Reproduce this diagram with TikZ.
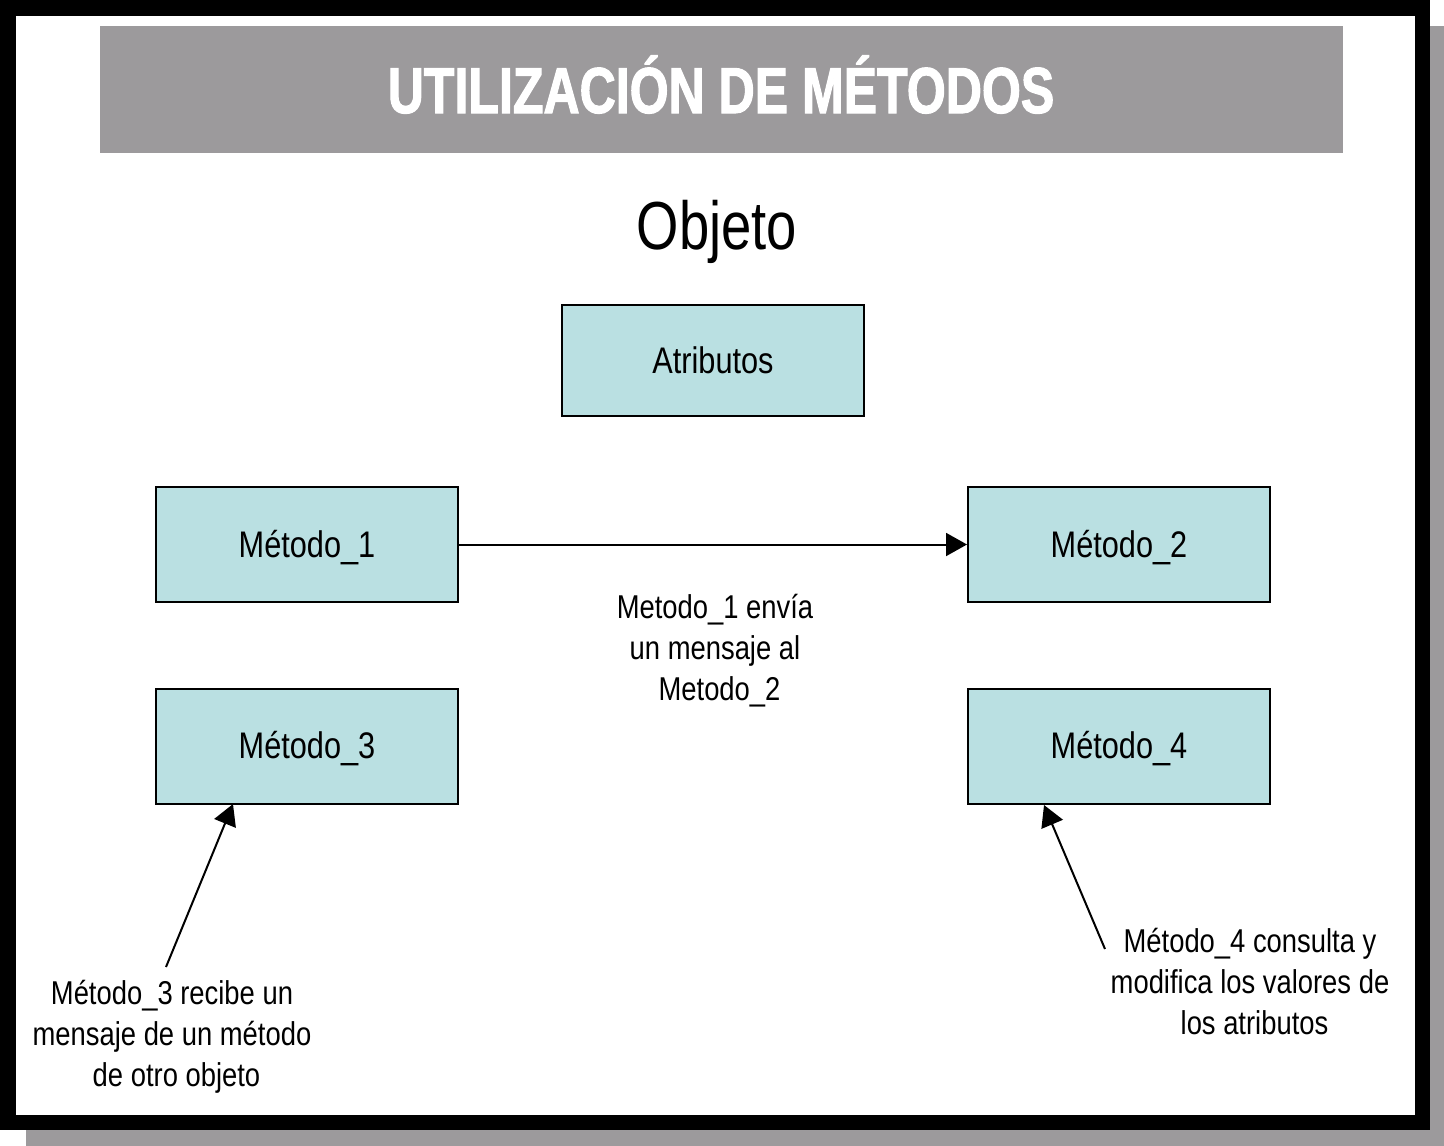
\documentclass[tikz,border=0pt]{standalone}
\usepackage{fontspec}
\setmainfont[FakeStretch=0.83]{Liberation Sans}
\newfontfamily\titlefont[FakeStretch=0.77,FakeBold=1.6]{Liberation Sans Bold}
\newfontfamily\objfont[FakeStretch=0.8]{Liberation Sans}
\usetikzlibrary{arrows.meta}
\definecolor{hdrgrey}{RGB}{156,154,156}
\definecolor{boxfill}{RGB}{186,224,226}
\newcommand{\boxtxt}[1]{\raisebox{-12.5pt}[0pt][0pt]{#1}}
\begin{document}
\begin{tikzpicture}[x=1pt,y=-1pt,
  methbox/.style={draw=black,line width=2pt,fill=boxfill,minimum width=302pt,minimum height=115pt,inner sep=0pt,font=\fontsize{37}{41}\selectfont},
  note/.style={align=center,inner sep=0pt,font=\fontsize{33}{41}\selectfont},
  conn/.style={line width=2pt,-{Triangle[length=21pt,width=23pt]}}]
\useasboundingbox (0,0) rectangle (1444,1146);
% shadow and frame
\fill[hdrgrey] (26,26) rectangle (1444,1146);
\fill[black] (0,0) rectangle (1430,1130);
\fill[white] (16,16) rectangle (1415,1115);
% header
\fill[hdrgrey] (100,26) rectangle (1343,153);
\node[text=white,inner sep=0pt,anchor=base,font=\titlefont\fontsize{65}{70}\selectfont] (title) at (721,113) {UTILIZACIÓN DE MÉTODOS};
\node[inner sep=0pt,anchor=base,font=\objfont\fontsize{68}{74}\selectfont] (obj) at (717,249) {Objeto};
% boxes
\node[methbox,minimum height=111pt] (atr) at (713,360.5) {\boxtxt{Atributos}};
\node[methbox] (m1) at (307,544.5) {\boxtxt{Método\_1}};
\node[methbox] (m2) at (1119,544.5) {\boxtxt{Método\_2}};
\node[methbox] (m3) at (307,746) {\boxtxt{Método\_3}};
\node[methbox] (m4) at (1119,746) {\boxtxt{Método\_4}};
% notes
\node[note] (n1) at (715,651) {Metodo\_1 envía\\un mensaje al\\\hspace*{9pt}Metodo\_2};
\node[note] (n3) at (172,1037) {Método\_3 recibe un\\mensaje de un método\\\hspace*{9pt}de otro objeto};
\node[note] (n4) at (1250,982) {Método\_4 consulta y\\modifica los valores de\\\hspace*{9pt}los atributos};
% connectors
\coordinate (s3) at (166,967);
\coordinate (t3) at (233,804);
\coordinate (s4) at (1105,949);
\coordinate (t4) at (1044,805);
\draw[conn] (m1.east) -- (m2.west);
\draw[conn] (s3) -- (t3);
\draw[conn] (s4) -- (t4);
\end{tikzpicture}
\end{document}
